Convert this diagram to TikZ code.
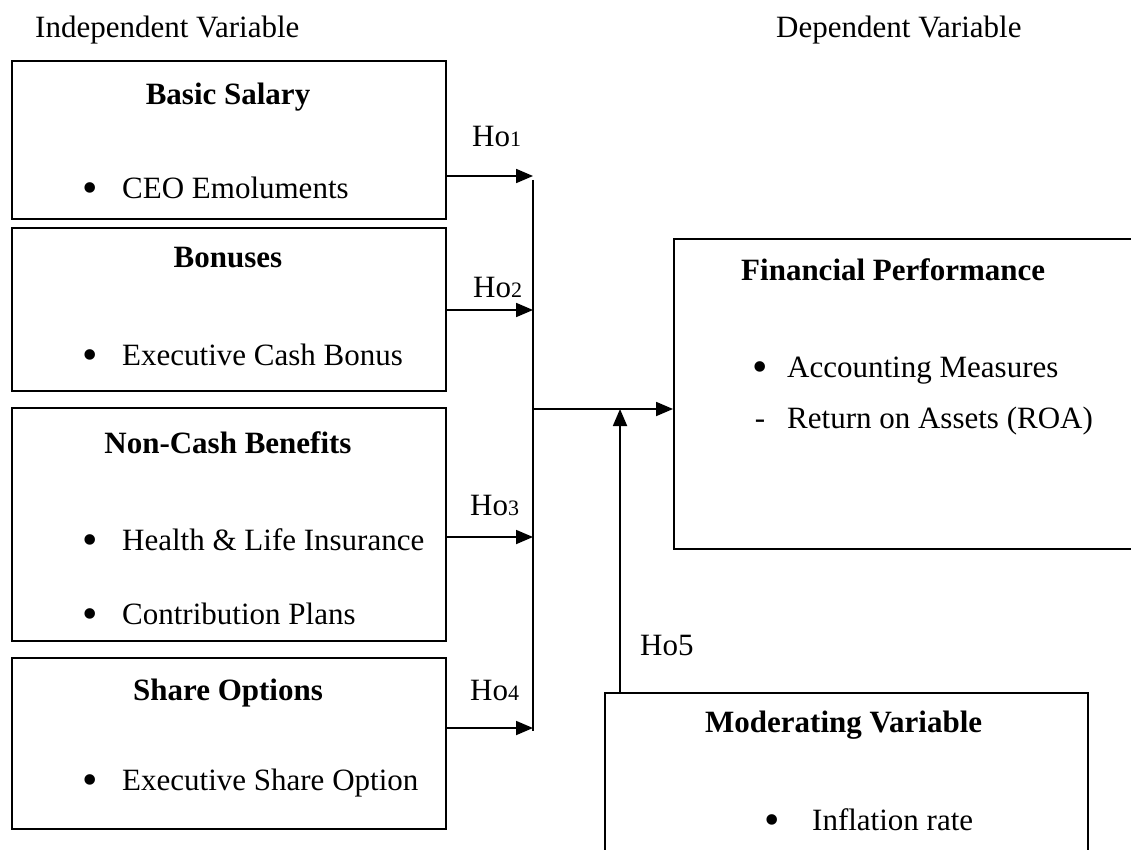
\documentclass[tikz,border=0pt]{standalone}
\usepackage{fontspec}
\setmainfont{Liberation Serif}
\usetikzlibrary{arrows.meta,positioning}
\tikzset{
 box/.style={draw,line width=1.8pt,anchor=north west,inner sep=0pt},
 txt/.style={anchor=base west,inner sep=0pt,font=\fontsize{31}{36}\selectfont},
 ttl/.style={anchor=base,inner sep=0pt,font=\fontsize{31}{36}\selectfont\bfseries},
 dot/.style={anchor=base,inner sep=0pt,font=\fontsize{44}{44}\selectfont},
 arr/.style={line width=1.8pt,-{Triangle[length=17pt,width=14pt]}}
}
\newcommand{\Hyp}[1]{Ho{\fontsize{22}{22}\selectfont #1}}

\begin{document}
\begin{tikzpicture}[x=1pt,y=-1pt]
\useasboundingbox (0,0) rectangle (1131,850);
\clip (0,0) rectangle (1131,850);
\node[txt] (iv) at (35,38) {Independent Variable};
\node[txt] (dv) at (776,38) {Dependent Variable};
\node[box,minimum width=434pt,minimum height=158pt] (salary) at (11,60) {};
\node[box,minimum width=434pt,minimum height=163pt] (bonus) at (11,227) {};
\node[box,minimum width=434pt,minimum height=233pt] (benefit) at (11,407) {};
\node[box,minimum width=434pt,minimum height=171pt] (share) at (11,657) {};
\node[box,minimum width=480pt,minimum height=310pt] (perf) at (673,238) {};
\node[box,minimum width=483pt,minimum height=190pt] (mod) at (604,692) {};
\node[ttl] (salaryT) at (228,105) {Basic Salary};
\node[ttl] (bonusT) at (228,267) {Bonuses};
\node[ttl] (benefitT) at (228,453) {Non-Cash Benefits};
\node[ttl] (shareT) at (228,700) {Share Options};
\node[ttl,anchor=base west] (perfT) at (741,280) {Financial Performance};
\node[ttl,anchor=base west] (modT) at (705,732) {Moderating Variable};
\foreach \bx/\x/\y/\t [count=\i] in {90/122/199/CEO Emoluments,
 90/122/365/Executive Cash Bonus,
 90/122/550/{Health \& Life Insurance},
 90/122/624/Contribution Plans,
 90/122/790/Executive Share Option,
 760/787/377/Accounting Measures,
 772/812/830/Inflation rate}
{
 \node[txt] (item\i) at (\x,\y) {\t};
 \node[dot] (dot\i) at (\bx,\y+4) {\textbullet};
}
\node[txt,anchor=base] (dash) at (760,428) {-};
\node[txt] (roa) at (787,428) {Return on Assets (ROA)};
\node[txt] (h1) at (472,147) {\Hyp{1}};
\node[txt] (h2) at (473,297) {\Hyp{2}};
\node[txt] (h3) at (470,515) {\Hyp{3}};
\node[txt] (h4) at (470,700) {\Hyp{4}};
\node[txt] (h5) at (640,655) {Ho5};
\coordinate (j1) at (533,176);
\coordinate (j2) at (533,310);
\coordinate (j3) at (533,537);
\coordinate (j4) at (533,728);
\coordinate (jt) at (533,180);
\coordinate (jb) at (533,731);
\coordinate (jm) at (533,409);
\coordinate (mm) at (620,409);
\draw[line width=1.8pt] (jt) -- (jb);
\foreach \n/\b in {1/salary,2/bonus,3/benefit,4/share}
 \draw[arr] (\b.east |- j\n) -- (j\n);
\draw[arr] (jm) -- (perf.west |- jm);
\draw[arr] (mod.north -| mm) -- (mm);
\end{tikzpicture}
\end{document}
